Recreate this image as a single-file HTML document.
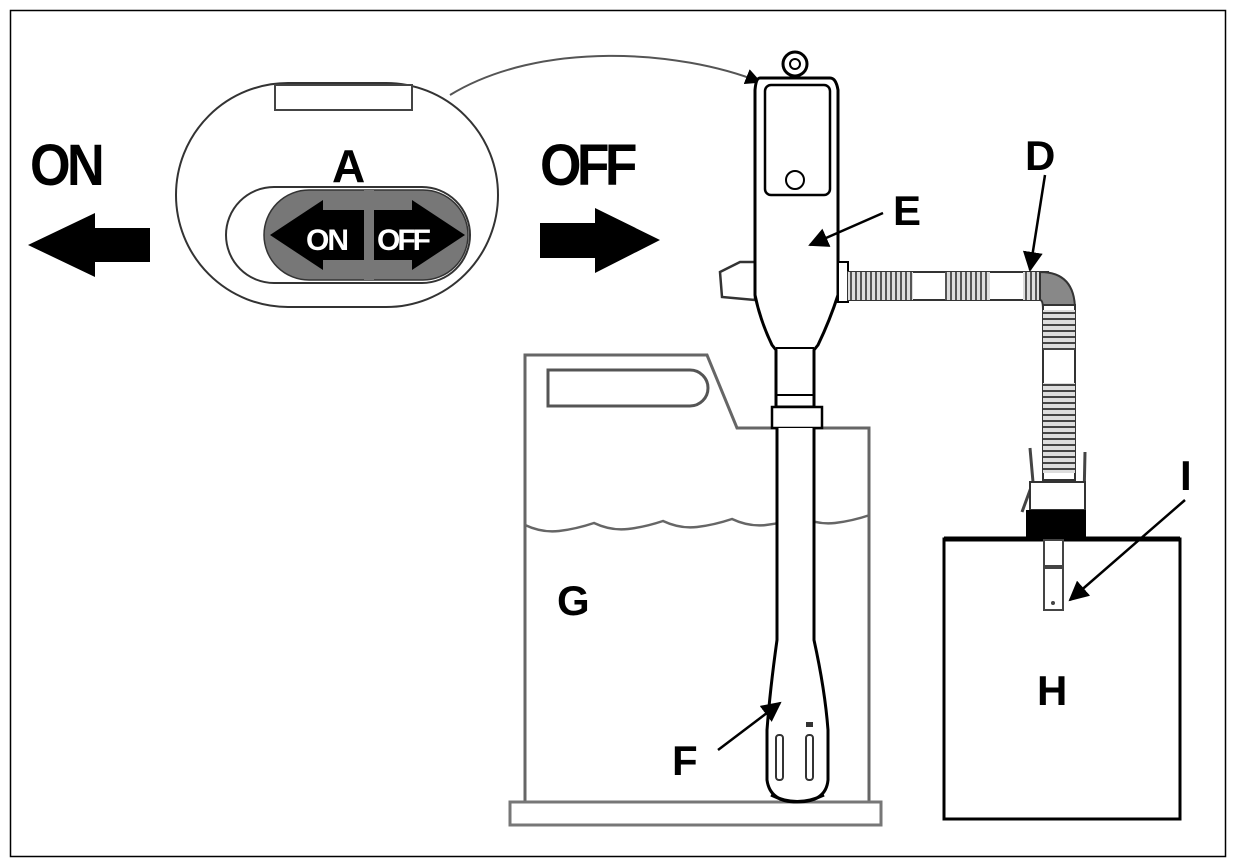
<!DOCTYPE html>
<html><head><style>
html,body{margin:0;padding:0;background:#fff;width:1236px;height:867px;overflow:hidden}
svg{display:block}
text{font-family:"Liberation Sans",Arial,sans-serif;font-weight:bold}
</style></head><body>
<svg width="1236" height="867" viewBox="0 0 1236 867" xmlns="http://www.w3.org/2000/svg">
<defs>
<marker id="ah" viewBox="0 0 10 10" refX="9" refY="5" markerWidth="8" markerHeight="8" orient="auto"><path d="M0,0L10,5L0,10z" fill="#000"/></marker>
<pattern id="rib" width="5" height="10" patternUnits="userSpaceOnUse"><rect width="5" height="10" fill="#ddd"/><rect width="2" height="10" fill="#555"/></pattern>
<pattern id="ribv" width="10" height="6" patternUnits="userSpaceOnUse"><rect width="10" height="6" fill="#ddd"/><rect width="10" height="2" fill="#444"/></pattern>
</defs>
<rect x="10.5" y="10.5" width="1215" height="846" fill="#fff" stroke="#000" stroke-width="1.5"/>

<!-- ON / OFF -->
<text x="30" y="185" font-size="58" letter-spacing="-4" transform="translate(30,0) scale(0.9,1) translate(-30,0)">ON</text>
<path d="M28,245 L95,213 L95,228 L150,228 L150,262 L95,262 L95,277 Z" fill="#000"/>
<text x="540" y="185" font-size="58" letter-spacing="-5" transform="translate(540,0) scale(0.92,1) translate(-540,0)">OFF</text>
<path d="M660,240 L595,208 L595,223 L540,223 L540,258 L595,258 L595,273 Z" fill="#000"/>

<!-- Oval A -->
<rect x="176" y="83" width="322" height="224" rx="112" fill="#fff" stroke="#333" stroke-width="2"/>
<rect x="275" y="85" width="137" height="25" fill="#fff" stroke="#444" stroke-width="2"/>
<text x="332" y="182" font-size="46">A</text>
<rect x="226" y="187" width="244" height="96" rx="48" fill="#fff" stroke="#333" stroke-width="2"/>
<rect x="264" y="190" width="204" height="90" rx="45" fill="#777" stroke="#333" stroke-width="1.5"/>
<path d="M270,235 L323,200 L323,210 L412,210 L412,200 L465,235 L412,270 L412,260 L323,260 L323,270 Z" fill="#000"/>
<rect x="364" y="190" width="10" height="90" fill="#777"/>
<text x="306" y="250" font-size="30" fill="#fff" font-weight="normal" letter-spacing="-2">ON</text>
<text x="377" y="250" font-size="30" fill="#fff" font-weight="normal" letter-spacing="-3">OFF</text>

<!-- curve connector -->
<path d="M450,95 C540,40 680,50 760,82" fill="none" stroke="#555" stroke-width="2" marker-end="url(#ah)"/>

<!-- Jerry can G -->
<path d="M525,802 L525,355 L707,355 L737,428 L869,428 L869,802" fill="none" stroke="#666" stroke-width="3"/>
<path d="M548,370 L690,370 A18,18 0 0 1 690,406 L548,406 Z" fill="none" stroke="#555" stroke-width="3"/>
<path d="M525,525 q17,8 34,6 t35,-8 q17,8 34,6 t35,-8 q17,8 34,6 t35,-8 q17,8 34,6 t35,-8 q17,8 34,6 t35,-8" fill="none" stroke="#666" stroke-width="2.5"/>
<rect x="510" y="802" width="371" height="23" fill="#fff" stroke="#777" stroke-width="3"/>
<text x="557" y="615" font-size="42">G</text>

<!-- Pump -->
<circle cx="795" cy="64" r="12" fill="#fff" stroke="#000" stroke-width="3"/>
<circle cx="795" cy="64" r="5" fill="#fff" stroke="#000" stroke-width="2"/>
<path d="M720,272 L740,262 L755,262 L755,300 L722,297 Z" fill="#fff" stroke="#333" stroke-width="2.5"/>
<path d="M760,78 Q756,78 755,90 L755,295 Q760,320 772,345 L776,350 L776,407 L814,407 L814,350 L818,345 Q830,320 838,295 L838,90 Q836,78 830,78 Z" fill="#fff" stroke="#000" stroke-width="3"/>
<rect x="765" y="85" width="65" height="110" rx="6" fill="#fff" stroke="#000" stroke-width="2.5"/>
<circle cx="795" cy="180" r="9" fill="#fff" stroke="#000" stroke-width="2"/>
<line x1="776" y1="348" x2="814" y2="348" stroke="#000" stroke-width="2"/>
<line x1="776" y1="395" x2="814" y2="395" stroke="#000" stroke-width="2"/>
<rect x="772" y="407" width="50" height="21" fill="#fff" stroke="#000" stroke-width="2.5"/>
<path d="M777,428 L777,640 Q770,690 767,730 L767,780 Q770,802 797,802 Q826,802 828,780 L828,730 Q825,690 814,640 L814,428" fill="#fff" stroke="#000" stroke-width="3"/>
<rect x="776" y="735" width="7" height="45" rx="3" fill="#fff" stroke="#333" stroke-width="2"/>
<rect x="806" y="735" width="7" height="45" rx="3" fill="#fff" stroke="#333" stroke-width="2"/>
<rect x="806" y="722" width="7" height="5" fill="#333"/>
<path d="M771,795 Q797,808 824,795" fill="none" stroke="#000" stroke-width="3"/>
<text x="672" y="775" font-size="42">F</text>
<line x1="718" y1="750" x2="780" y2="703" stroke="#000" stroke-width="2.5" marker-end="url(#ah)"/>
<text x="893" y="225" font-size="42">E</text>
<line x1="883" y1="213" x2="810" y2="245" stroke="#000" stroke-width="2.5" marker-end="url(#ah)"/>

<!-- Hose -->
<rect x="838" y="262" width="10" height="40" fill="#fff" stroke="#000" stroke-width="2"/>
<rect x="848" y="272" width="200" height="28" fill="#fff" stroke="#333" stroke-width="2"/>
<rect x="848" y="272" width="65" height="28" fill="url(#rib)"/>
<rect x="945" y="272" width="45" height="28" fill="url(#rib)"/>
<rect x="1023" y="272" width="20" height="28" fill="url(#rib)"/>
<path d="M1040,272 Q1075,272 1075,310 L1043,310 Q1043,300 1040,300 Z" fill="#888" stroke="#333" stroke-width="2"/>
<rect x="1043" y="305" width="32" height="175" fill="#fff" stroke="#333" stroke-width="2"/>
<rect x="1043" y="310" width="32" height="40" fill="url(#ribv)"/>
<rect x="1043" y="383" width="32" height="90" fill="url(#ribv)"/>
<text x="1025" y="170" font-size="42">D</text>
<line x1="1045" y1="175" x2="1030" y2="270" stroke="#000" stroke-width="2.5" marker-end="url(#ah)"/>

<!-- connector clips -->
<path d="M1030,448 L1033,482 L1022,512" fill="none" stroke="#444" stroke-width="3"/>
<path d="M1085,452 L1084,500" fill="none" stroke="#444" stroke-width="3"/>
<rect x="1030" y="482" width="55" height="28" fill="#fff" stroke="#333" stroke-width="2"/>
<rect x="1026" y="510" width="60" height="30" fill="#000"/>

<!-- Box H -->
<rect x="944" y="539" width="236" height="280" fill="#fff" stroke="#000" stroke-width="3"/>
<line x1="944" y1="539" x2="1180" y2="539" stroke="#000" stroke-width="5"/>
<rect x="1044" y="540" width="19" height="70" fill="#fff" stroke="#444" stroke-width="2"/>
<rect x="1044" y="565" width="19" height="4" fill="#444"/>
<circle cx="1053" cy="603" r="2" fill="#444"/>
<text x="1037" y="705" font-size="42">H</text>
<text x="1180" y="490" font-size="42">I</text>
<line x1="1185" y1="500" x2="1070" y2="600" stroke="#000" stroke-width="2.5" marker-end="url(#ah)"/>
</svg>
</body></html>
